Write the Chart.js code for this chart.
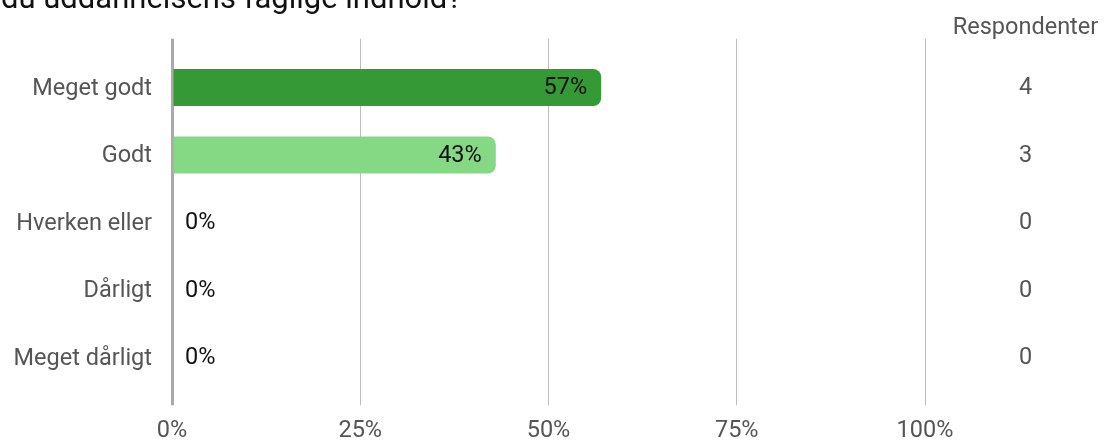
<!DOCTYPE html>
<html>
<head>
<meta charset="utf-8">
<script src="https://cdn.jsdelivr.net/npm/chart.js@4"></script>
<style>
  html, body { margin: 0; padding: 0; background: #fff; overflow: hidden; }
</style>
</head>
<body>
<canvas id="chart" width="1104" height="441"></canvas>
<script>
// Answer categories, share in percent and number of respondents
const categories = ['Meget godt', 'Godt', 'Hverken eller', 'Dårligt', 'Meget dårligt'];
const percentages = [57, 43, 0, 0, 0];
const respondents = [4, 3, 0, 0, 0];
const barColors = ['#359a35', '#85d984', '#85d984', '#85d984', '#85d984'];
const tickStep = 25;
const question = 'du uddannelsens faglige indhold?';
const countHeader = 'Respondenter';

Chart.defaults.font.family = 'Roboto';
const FONT_SIZE = 23.5;

const gridColor = ctx => ctx.tick && ctx.tick.value === 0 ? '#a9a9a9' : '#bdbdbd';
const gridWidth = ctx => ctx.tick && ctx.tick.value === 0 ? 3 : 1;

// Value labels on the bars, respondent counts on the right, question text on top
const labelPlugin = {
  id: 'labels',
  afterDatasetsDraw(chart) {
    const ctx = chart.ctx;
    const xScale = chart.scales.x;
    const yScale = chart.scales.y;
    const countX = chart.chartArea.right + 100.5;
    const meta = chart.getDatasetMeta(0);
    ctx.save();
    ctx.font = FONT_SIZE + 'px Roboto';
    ctx.textBaseline = 'middle';
    meta.data.forEach((bar, i) => {
      const v = percentages[i];
      ctx.fillStyle = '#111';
      if (v > 10) {
        ctx.textAlign = 'right';
        ctx.fillText(v + '%', bar.x - 14, bar.y + 1);
      } else {
        ctx.textAlign = 'left';
        ctx.fillText(v + '%', xScale.getPixelForValue(0) + 13, bar.y + 1);
      }
      ctx.fillStyle = '#555';
      ctx.textAlign = 'center';
      ctx.fillText(String(respondents[i]), countX, yScale.getPixelForValue(i) + 1);
    });
    ctx.fillStyle = '#555';
    ctx.textAlign = 'center';
    ctx.fillText(countHeader, countX, 28);
    ctx.font = '31px Roboto';
    ctx.fillStyle = '#111';
    ctx.textAlign = 'left';
    ctx.textBaseline = 'alphabetic';
    ctx.fillText(question, 1, 7.5);
    ctx.restore();
  }
};

new Chart(document.getElementById('chart').getContext('2d'), {
  type: 'bar',
  data: {
    labels: categories,
    datasets: [{
      data: percentages,
      backgroundColor: barColors,
      borderRadius: 8,
      borderSkipped: 'start',
      categoryPercentage: 1,
      barPercentage: 0.55,
      xAxisID: 'x',
      yAxisID: 'y'
    }]
  },
  options: {
    responsive: false,
    animation: false,
    indexAxis: 'y',
    layout: { padding: { top: 38.75, right: 179, left: 0, bottom: 0 } },
    plugins: { legend: { display: false }, tooltip: { enabled: false } },
    scales: {
      x: {
        type: 'linear',
        position: 'bottom',
        min: 0,
        max: 100,
        border: { display: false },
        grid: { color: gridColor, lineWidth: gridWidth, tickLength: 14 },
        ticks: {
          stepSize: tickStep,
          padding: 12,
          color: '#555',
          font: { size: FONT_SIZE },
          callback: v => v + '%'
        },
        afterFit(scale) { scale.height = 49.75; }
      },
      xTop: {
        type: 'linear',
        position: 'top',
        min: 0,
        max: 100,
        border: { display: false },
        grid: { drawOnChartArea: false, color: gridColor, lineWidth: gridWidth, tickLength: 15 },
        ticks: { stepSize: tickStep, display: false },
        afterFit(scale) { scale.height = 15; }
      },
      y: {
        type: 'category',
        border: { display: false },
        grid: { display: false, drawTicks: false },
        ticks: { padding: 20, labelOffset: 1.5, color: '#555', font: { size: FONT_SIZE } },
        afterFit(scale) { scale.width = 172; }
      }
    }
  },
  plugins: [labelPlugin]
});
</script>
</body>
</html>
